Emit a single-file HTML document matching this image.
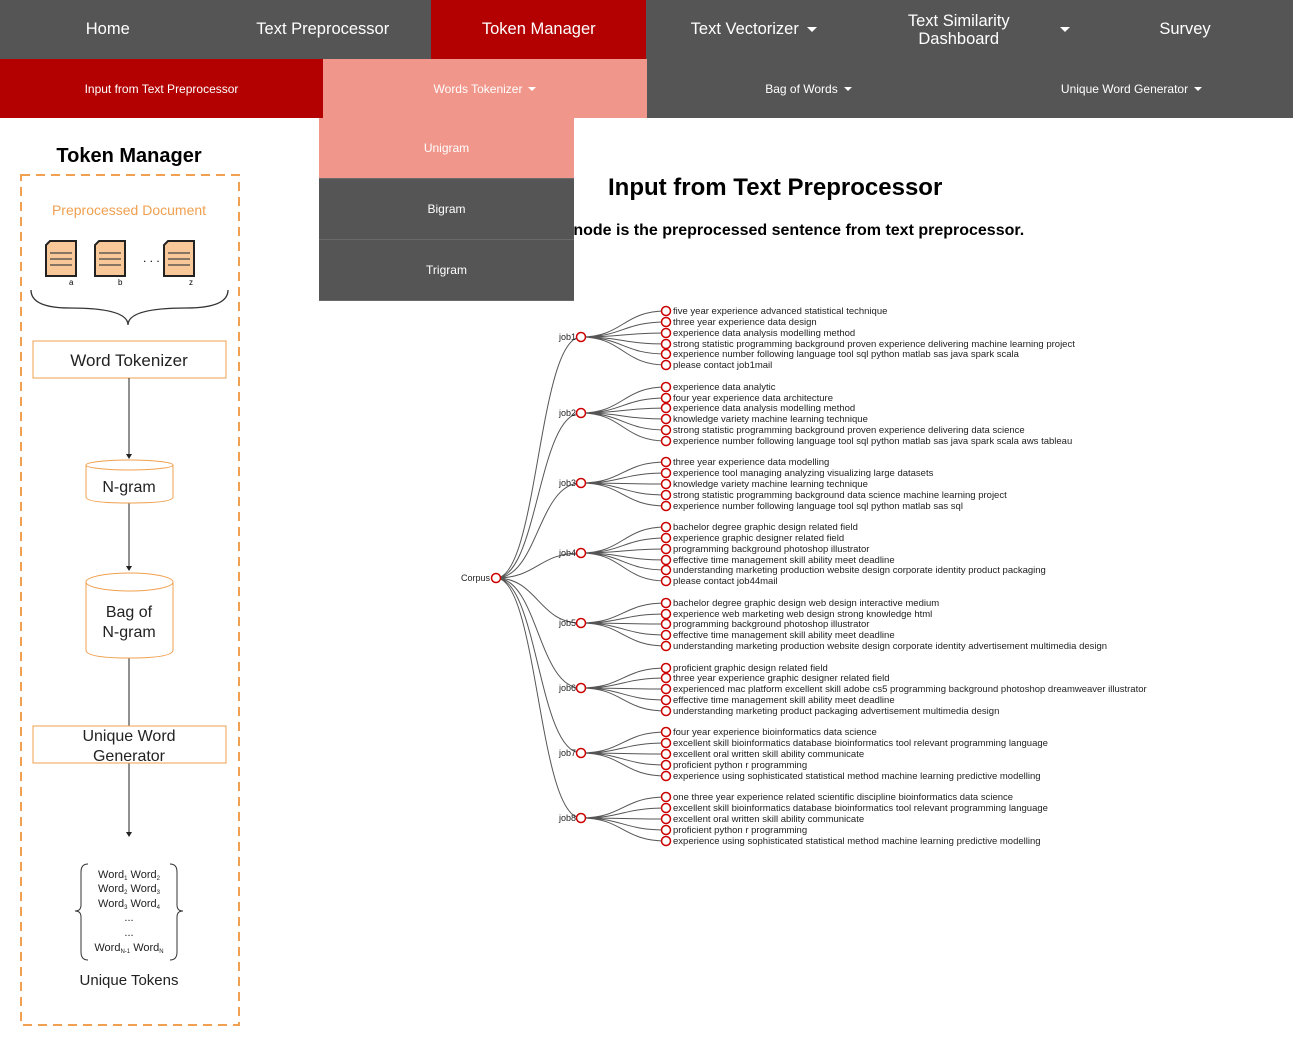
<!DOCTYPE html>
<html><head><meta charset="utf-8"><style>
body{margin:0;width:1293px;height:1062px;background:#fff;font-family:"Liberation Sans",Arial,sans-serif;position:relative;overflow:hidden}
.a{position:absolute;display:flex;align-items:center;justify-content:center;color:#fff;text-align:center}
.t{top:0;height:59px;font-size:16.5px;background:#555;width:215.5px}
.s{top:59px;height:59px;font-size:12px;background:#555}
.d{left:319px;width:255px;height:60px;font-size:12px;background:#555;border-bottom:1px solid #6a6a6a}
.car{display:inline-block;border-left:5px solid transparent;border-right:5px solid transparent;border-top:5px solid #fff;margin-left:8px}
.car2{display:inline-block;border-left:4px solid transparent;border-right:4px solid transparent;border-top:4px solid #fff;margin-left:6px}
</style></head><body>
<div class="a t" style="left:0">Home</div>
<div class="a t" style="left:215px">Text Preprocessor</div>
<div class="a t" style="left:431px;background:#b30000">Token Manager</div>
<div class="a t" style="left:646px">Text Vectorizer<span class="car"></span></div>
<div class="a t" style="left:862px;line-height:18px"><span style="margin-left:38px">Text Similarity<br>Dashboard</span><span class="car" style="margin-left:50px"></span></div>
<div class="a t" style="left:1077px;width:216px">Survey</div>
<div class="a s" style="left:0;width:323px;background:#b30000">Input from Text Preprocessor</div>
<div class="a s" style="left:323px;width:324px;background:#f0968a">Words Tokenizer<span class="car2"></span></div>
<div class="a s" style="left:647px;width:323px">Bag of Words<span class="car2"></span></div>
<div class="a s" style="left:970px;width:323px">Unique Word Generator<span class="car2"></span></div>

<div style="position:absolute;left:608px;top:174px;font-size:24px;font-weight:bold;white-space:nowrap">Input from Text Preprocessor</div>
<div style="position:absolute;left:560px;top:222px;font-size:16px;font-weight:bold;white-space:nowrap">e node is the preprocessed sentence from text preprocessor.</div>

<div class="a d" style="top:118px;background:#f0968a">Unigram</div>
<div class="a d" style="top:179px">Bigram</div>
<div class="a d" style="top:240px">Trigram</div>

<svg style="position:absolute;left:0;top:0" width="320" height="1062">
<text x="129" y="162" text-anchor="middle" font-size="20" font-weight="bold">Token Manager</text>
<rect x="21" y="175" width="218" height="850" fill="none" stroke="#f0a050" stroke-width="2" stroke-dasharray="9,6"/>
<text x="129" y="215" text-anchor="middle" font-size="14" fill="#f0a050">Preprocessed Document</text>
<g fill="#f8c898" stroke="#222" stroke-width="2">
<path d="M50,241 H76 V276 H46 V245 Z"/><path d="M99,241 H125 V276 H95 V245 Z"/><path d="M168,241 H194 V276 H164 V245 Z"/></g>
<g stroke="#444" stroke-width="1.2"><path d="M50,253h22M50,259h22M50,265h22M99,253h22M99,259h22M99,265h22M168,253h22M168,259h22M168,265h22"/></g>
<text x="143" y="262" font-size="12">. . .</text>
<text x="69" y="285" font-size="8">a</text><text x="118" y="285" font-size="8">b</text><text x="189" y="285" font-size="8">z</text>
<path d="M31,290 Q31,308 70,308 Q128,308 128,325 Q128,308 186,308 Q228,308 228,290" fill="none" stroke="#333" stroke-width="1.3"/>
<rect x="33" y="341" width="193" height="37" fill="#fff" stroke="#f0a050"/>
<text x="129" y="366" text-anchor="middle" font-size="17" fill="#222">Word Tokenizer</text>
<g stroke="#222"><path d="M129,378V456M129,503V568M129,658V726M129,763V834"/></g>
<g fill="#222"><path d="M126,454h6l-3,5z M126,566h6l-3,5z M126,832h6l-3,5z"/></g>
<path d="M86,465 V497 Q86,503 129,503 Q173,503 173,497 V465" fill="#fff" stroke="#f0a050"/>
<ellipse cx="129.5" cy="465" rx="43.5" ry="5" fill="#fff" stroke="#f0a050"/>
<text x="129" y="492" text-anchor="middle" font-size="16" fill="#222">N-gram</text>
<path d="M86,582 V650 Q86,658 129,658 Q173,658 173,650 V582" fill="#fff" stroke="#f0a050"/>
<ellipse cx="129.5" cy="582" rx="43.5" ry="9" fill="#fff" stroke="#f0a050"/>
<text x="129" y="617" text-anchor="middle" font-size="16" fill="#222">Bag of</text>
<text x="129" y="637" text-anchor="middle" font-size="16" fill="#222">N-gram</text>
<rect x="33" y="726" width="193" height="37" fill="#fff" stroke="#f0a050"/>
<text x="129" y="741" text-anchor="middle" font-size="16" fill="#222">Unique Word</text>
<text x="129" y="761" text-anchor="middle" font-size="16" fill="#222">Generator</text>
<path d="M88,864 Q81,864 81,872 V905 Q81,911 75,911 Q81,911 81,917 V952 Q81,960 88,960 M170,864 Q177,864 177,872 V905 Q177,911 183,911 Q177,911 177,917 V952 Q177,960 170,960" fill="none" stroke="#333"/>
<g font-size="11" fill="#222" text-anchor="middle">
<text x="129" y="878">Word<tspan font-size="6" dy="2">1</tspan><tspan dy="-2"> Word</tspan><tspan font-size="6" dy="2">2</tspan></text>
<text x="129" y="892">Word<tspan font-size="6" dy="2">2</tspan><tspan dy="-2"> Word</tspan><tspan font-size="6" dy="2">3</tspan></text>
<text x="129" y="907">Word<tspan font-size="6" dy="2">3</tspan><tspan dy="-2"> Word</tspan><tspan font-size="6" dy="2">4</tspan></text>
<text x="129" y="921">...</text><text x="129" y="936">...</text>
<text x="129" y="951">Word<tspan font-size="6" dy="2">N-1</tspan><tspan dy="-2"> Word</tspan><tspan font-size="6" dy="2">N</tspan></text>
</g>
<text x="129" y="985" text-anchor="middle" font-size="15" fill="#222">Unique Tokens</text>
</svg>

<svg style="position:absolute;left:0;top:0;pointer-events:none" width="1293" height="1062">
<g fill="none" stroke="#555" stroke-width="1">
<path d="M496,578C538,578 538,337 581,337M496,578C538,578 538,413 581,413M496,578C538,578 538,483 581,483M496,578C538,578 538,553 581,553M496,578C538,578 538,623 581,623M496,578C538,578 538,688 581,688M496,578C538,578 538,753 581,753M496,578C538,578 538,818 581,818"/>
<path d="M581,337C623,337 623,311 666,311M581,337C623,337 623,322 666,322M581,337C623,337 623,333 666,333M581,337C623,337 623,344 666,344M581,337C623,337 623,354 666,354M581,337C623,337 623,365 666,365"/>
<path d="M581,413C623,413 623,387 666,387M581,413C623,413 623,398 666,398M581,413C623,413 623,408 666,408M581,413C623,413 623,419 666,419M581,413C623,413 623,430 666,430M581,413C623,413 623,441 666,441"/>
<path d="M581,483C623,483 623,462 666,462M581,483C623,483 623,473 666,473M581,483C623,483 623,484 666,484M581,483C623,483 623,495 666,495M581,483C623,483 623,506 666,506"/>
<path d="M581,553C623,553 623,527 666,527M581,553C623,553 623,538 666,538M581,553C623,553 623,549 666,549M581,553C623,553 623,560 666,560M581,553C623,553 623,570 666,570M581,553C623,553 623,581 666,581"/>
<path d="M581,623C623,623 623,603 666,603M581,623C623,623 623,614 666,614M581,623C623,623 623,624 666,624M581,623C623,623 623,635 666,635M581,623C623,623 623,646 666,646"/>
<path d="M581,688C623,688 623,668 666,668M581,688C623,688 623,678 666,678M581,688C623,688 623,689 666,689M581,688C623,688 623,700 666,700M581,688C623,688 623,711 666,711"/>
<path d="M581,753C623,753 623,732 666,732M581,753C623,753 623,743 666,743M581,753C623,753 623,754 666,754M581,753C623,753 623,765 666,765M581,753C623,753 623,776 666,776"/>
<path d="M581,818C623,818 623,797 666,797M581,818C623,818 623,808 666,808M581,818C623,818 623,819 666,819M581,818C623,818 623,830 666,830M581,818C623,818 623,841 666,841"/>
</g>
<g fill="#fff" stroke="#c00" stroke-width="1.5">
<circle cx="496" cy="578" r="4.5"/>
<circle cx="581" cy="337" r="4.5"/><circle cx="581" cy="413" r="4.5"/><circle cx="581" cy="483" r="4.5"/><circle cx="581" cy="553" r="4.5"/><circle cx="581" cy="623" r="4.5"/><circle cx="581" cy="688" r="4.5"/><circle cx="581" cy="753" r="4.5"/><circle cx="581" cy="818" r="4.5"/>
<g>
<circle cx="666" cy="311" r="4.5"/><circle cx="666" cy="322" r="4.5"/><circle cx="666" cy="333" r="4.5"/><circle cx="666" cy="344" r="4.5"/><circle cx="666" cy="354" r="4.5"/><circle cx="666" cy="365" r="4.5"/>
<circle cx="666" cy="387" r="4.5"/><circle cx="666" cy="398" r="4.5"/><circle cx="666" cy="408" r="4.5"/><circle cx="666" cy="419" r="4.5"/><circle cx="666" cy="430" r="4.5"/><circle cx="666" cy="441" r="4.5"/>
<circle cx="666" cy="462" r="4.5"/><circle cx="666" cy="473" r="4.5"/><circle cx="666" cy="484" r="4.5"/><circle cx="666" cy="495" r="4.5"/><circle cx="666" cy="506" r="4.5"/>
<circle cx="666" cy="527" r="4.5"/><circle cx="666" cy="538" r="4.5"/><circle cx="666" cy="549" r="4.5"/><circle cx="666" cy="560" r="4.5"/><circle cx="666" cy="570" r="4.5"/><circle cx="666" cy="581" r="4.5"/>
<circle cx="666" cy="603" r="4.5"/><circle cx="666" cy="614" r="4.5"/><circle cx="666" cy="624" r="4.5"/><circle cx="666" cy="635" r="4.5"/><circle cx="666" cy="646" r="4.5"/>
<circle cx="666" cy="668" r="4.5"/><circle cx="666" cy="678" r="4.5"/><circle cx="666" cy="689" r="4.5"/><circle cx="666" cy="700" r="4.5"/><circle cx="666" cy="711" r="4.5"/>
<circle cx="666" cy="732" r="4.5"/><circle cx="666" cy="743" r="4.5"/><circle cx="666" cy="754" r="4.5"/><circle cx="666" cy="765" r="4.5"/><circle cx="666" cy="776" r="4.5"/>
<circle cx="666" cy="797" r="4.5"/><circle cx="666" cy="808" r="4.5"/><circle cx="666" cy="819" r="4.5"/><circle cx="666" cy="830" r="4.5"/><circle cx="666" cy="841" r="4.5"/>
</g></g>
<g font-size="9" fill="#222" text-anchor="end">
<text x="490" y="581">Corpus</text>
<text x="576" y="340">job1</text><text x="576" y="416">job2</text><text x="576" y="486">job3</text><text x="576" y="556">job4</text><text x="576" y="626">job5</text><text x="576" y="691">job6</text><text x="576" y="756">job7</text><text x="576" y="821">job8</text>
</g>
<g font-size="9.5" fill="#222">
<text x="673" y="314">five year experience advanced statistical technique</text>
<text x="673" y="325">three year experience data design</text>
<text x="673" y="336">experience data analysis modelling method</text>
<text x="673" y="347">strong statistic programming background proven experience delivering machine learning project</text>
<text x="673" y="357">experience number following language tool sql python matlab sas java spark scala</text>
<text x="673" y="368">please contact job1mail</text>
<text x="673" y="390">experience data analytic</text>
<text x="673" y="401">four year experience data architecture</text>
<text x="673" y="411">experience data analysis modelling method</text>
<text x="673" y="422">knowledge variety machine learning technique</text>
<text x="673" y="433">strong statistic programming background proven experience delivering data science</text>
<text x="673" y="444">experience number following language tool sql python matlab sas java spark scala aws tableau</text>
<text x="673" y="465">three year experience data modelling</text>
<text x="673" y="476">experience tool managing analyzing visualizing large datasets</text>
<text x="673" y="487">knowledge variety machine learning technique</text>
<text x="673" y="498">strong statistic programming background data science machine learning project</text>
<text x="673" y="509">experience number following language tool sql python matlab sas sql</text>
<text x="673" y="530">bachelor degree graphic design related field</text>
<text x="673" y="541">experience graphic designer related field</text>
<text x="673" y="552">programming background photoshop illustrator</text>
<text x="673" y="563">effective time management skill ability meet deadline</text>
<text x="673" y="573">understanding marketing production website design corporate identity product packaging</text>
<text x="673" y="584">please contact job44mail</text>
<text x="673" y="606">bachelor degree graphic design web design interactive medium</text>
<text x="673" y="617">experience web marketing web design strong knowledge html</text>
<text x="673" y="627">programming background photoshop illustrator</text>
<text x="673" y="638">effective time management skill ability meet deadline</text>
<text x="673" y="649">understanding marketing production website design corporate identity advertisement multimedia design</text>
<text x="673" y="671">proficient graphic design related field</text>
<text x="673" y="681">three year experience graphic designer related field</text>
<text x="673" y="692">experienced mac platform excellent skill adobe cs5 programming background photoshop dreamweaver illustrator</text>
<text x="673" y="703">effective time management skill ability meet deadline</text>
<text x="673" y="714">understanding marketing product packaging advertisement multimedia design</text>
<text x="673" y="735">four year experience bioinformatics data science</text>
<text x="673" y="746">excellent skill bioinformatics database bioinformatics tool relevant programming language</text>
<text x="673" y="757">excellent oral written skill ability communicate</text>
<text x="673" y="768">proficient python r programming</text>
<text x="673" y="779">experience using sophisticated statistical method machine learning predictive modelling</text>
<text x="673" y="800">one three year experience related scientific discipline bioinformatics data science</text>
<text x="673" y="811">excellent skill bioinformatics database bioinformatics tool relevant programming language</text>
<text x="673" y="822">excellent oral written skill ability communicate</text>
<text x="673" y="833">proficient python r programming</text>
<text x="673" y="844">experience using sophisticated statistical method machine learning predictive modelling</text>
</g>
</svg>
</body></html>
